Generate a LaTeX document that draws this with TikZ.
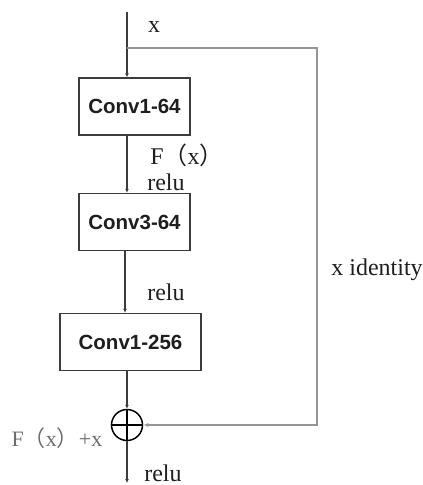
\documentclass[tikz,border=0pt]{standalone}
\usepackage{fontspec}
\setmainfont{Liberation Serif}
\newfontfamily\boxfont{Liberation Sans}
\newfontfamily\cjk{Noto Sans CJK SC}
\usetikzlibrary{arrows.meta}
\definecolor{linec}{RGB}{60,60,60}
\definecolor{skipc}{RGB}{150,150,150}
\definecolor{txtc}{RGB}{30,30,30}
\tikzset{
  convbox/.style={draw=linec, line width=1.5pt, minimum height=57pt, inner sep=0pt,
    font=\boxfont\bfseries\fontsize{20.5}{22}\selectfont, text=txtc},
  flow/.style={draw=linec, line width=1.4pt, -{Latex[length=4pt,width=4pt]}},
  skipline/.style={draw=skipc, line width=1.2pt},
  lbl/.style={font=\fontsize{24}{26}\selectfont, text=txtc, inner sep=0pt},
}
\begin{document}
\begin{tikzpicture}[x=1pt,y=-1pt]
\useasboundingbox (0,0) rectangle (423,485);
\coordinate (top) at (127,12);
\coordinate (split) at (127,48);
\coordinate (rt) at (317,48);
\coordinate (rb) at (317,425);
\coordinate (bot) at (127,483);
\node[convbox, minimum width=111pt] (c1) at (134.5,106.5) {Conv1-64};
\node[convbox, minimum width=111pt] (c2) at (134.5,222) {Conv3-64};
\node[convbox, minimum width=141pt] (c3) at (130.5,342) {Conv1-256};
\node[circle, draw=black, line width=1.5pt, minimum size=31pt, inner sep=0pt] (sum) at (127,425) {};
\draw[line width=1.5pt] (sum.north) -- (sum.south) (sum.west) -- (sum.east);
\draw[flow] (top) -- (top |- c1.north);
\draw[flow] (c1.south -| 127,0) -- (c2.north -| 127,0);
\draw[flow] (c2.south -| 125,0) -- (c3.north -| 125,0);
\draw[flow] (c3.south -| 127,0) -- (sum.north);
\draw[flow] (sum.south) -- (bot);
\draw[skipline, -{Latex[length=5pt,width=4pt,open]}] (split) -- (rt) -- (rb) -- (sum.east);
\node[lbl] (lx) at (154,27) {x};
\node[lbl] (lf) at (187,155) {F{\cjk （}x{\cjk ）}};
\node[lbl] (lr1) at (166,182) {relu};
\node[lbl] (lr2) at (166,292) {relu};
\node[lbl] (lid) at (377,270) {x identity};
\node[lbl, font=\fontsize{22}{24}\selectfont, text=gray!85!black] (lsum) at (57,438) {F{\cjk （}x{\cjk ）}+x};
\node[lbl] (lr3) at (163,473) {relu};
\end{tikzpicture}
\end{document}
